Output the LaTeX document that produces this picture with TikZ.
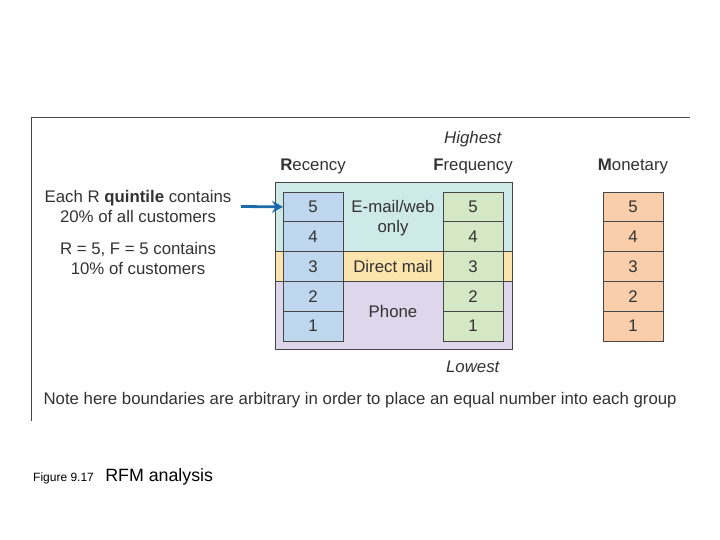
\documentclass[tikz,border=0pt]{standalone}
\usepackage{xcolor}
\usepackage{fontspec}
\setmainfont{Liberation Sans}
\usetikzlibrary{arrows.meta,positioning}

\definecolor{txtgray}{RGB}{50,50,50}
\definecolor{framegray}{RGB}{70,70,70}
\definecolor{bandteal}{RGB}{206,234,232}
\definecolor{bandorange}{RGB}{253,227,172}
\definecolor{bandpurple}{RGB}{222,214,234}
\definecolor{recblue}{RGB}{190,215,238}
\definecolor{freqgreen}{RGB}{213,232,197}
\definecolor{monpeach}{RGB}{250,206,170}
\definecolor{arrowblue}{RGB}{28,108,170}

\begin{document}
\begin{tikzpicture}[x=1pt,y=-1pt]
			\tikzstyle{every node}=[font=\fontsize{16.8}{20.5}\selectfont, text=txtgray]
			\tikzstyle{cell}=[draw=framegray, line width=0.8pt, minimum width=60pt, minimum height=29.8pt, inner sep=0pt, outer sep=0pt]
			\tikzstyle{band}=[draw=framegray, line width=0.8pt]
			\useasboundingbox (0,0) rectangle (720,540);
			% frame
			\draw [line width=1pt, framegray] (31,421) -- (31,118) -- (690,118);
			% channel bands
			\draw [band, fill=bandteal] (275,182) rectangle (512,251.6);
			\draw [band, fill=bandorange] (275,251.6) rectangle (512,281.4);
			\draw [band, fill=bandpurple] (275,281.4) rectangle (512,349);
			% recency column
			\node [cell, fill=recblue] (r5) at (313,206.9) {5};
			\node [cell, fill=recblue, below=0pt of r5] (r4) {4};
			\node [cell, fill=recblue, below=0pt of r4] (r3) {3};
			\node [cell, fill=recblue, below=0pt of r3] (r2) {2};
			\node [cell, fill=recblue, below=0pt of r2] (r1) {1};
			% frequency column
			\node [cell, fill=freqgreen] (f5) at (473,206.9) {5};
			\node [cell, fill=freqgreen, below=0pt of f5] (f4) {4};
			\node [cell, fill=freqgreen, below=0pt of f4] (f3) {3};
			\node [cell, fill=freqgreen, below=0pt of f3] (f2) {2};
			\node [cell, fill=freqgreen, below=0pt of f2] (f1) {1};
			% monetary column
			\node [cell, fill=monpeach] (m5) at (633,206.9) {5};
			\node [cell, fill=monpeach, below=0pt of m5] (m4) {4};
			\node [cell, fill=monpeach, below=0pt of m4] (m3) {3};
			\node [cell, fill=monpeach, below=0pt of m3] (m2) {2};
			\node [cell, fill=monpeach, below=0pt of m2] (m1) {1};
			% headings
			\node (recency) at (313,166) {\textbf{R}ecency};
			\node (frequency) at (473,166) {\textbf{F}requency};
			\node (monetary) at (633,166) {\textbf{M}onetary};
			\node (highest) at (473,139) {\textit{Highest}};
			\node (lowest) at (473,367) {\textit{Lowest}};
			% channels
			\node [align=center] (email) at (393,218) {E-mail/web\\only};
			\node (direct) at (393,266.5) {Direct mail};
			\node (phone) at (393,311) {Phone};
			% notes
			\node [align=center] (each) at (138,206.5) {Each R \textbf{quintile} contains\\20\% of all customers};
			\node [align=center] (tenpct) at (138,258.5) {R = 5, F = 5 contains\\10\% of customers};
			\draw [line width=2.8pt, arrowblue, -{Stealth[length=11pt,width=12pt]}] ([xshift=6pt]each.east) -- (r5.west);
			\node [anchor=west] (boundnote) at (40,400) {Note here boundaries are arbitrary in order to place an equal number into each group};
			% caption
			\node [anchor=base west, inner sep=0pt, text=black, font=\fontsize{12}{14}\selectfont] (fignum) at (33,481) {Figure 9.17};
			\node [inner sep=0pt, text=black, font=\fontsize{17.8}{20}\selectfont, right=11pt of fignum.base east, anchor=base west] (figtitle) {RFM analysis};
	\end{tikzpicture}
\end{document}
